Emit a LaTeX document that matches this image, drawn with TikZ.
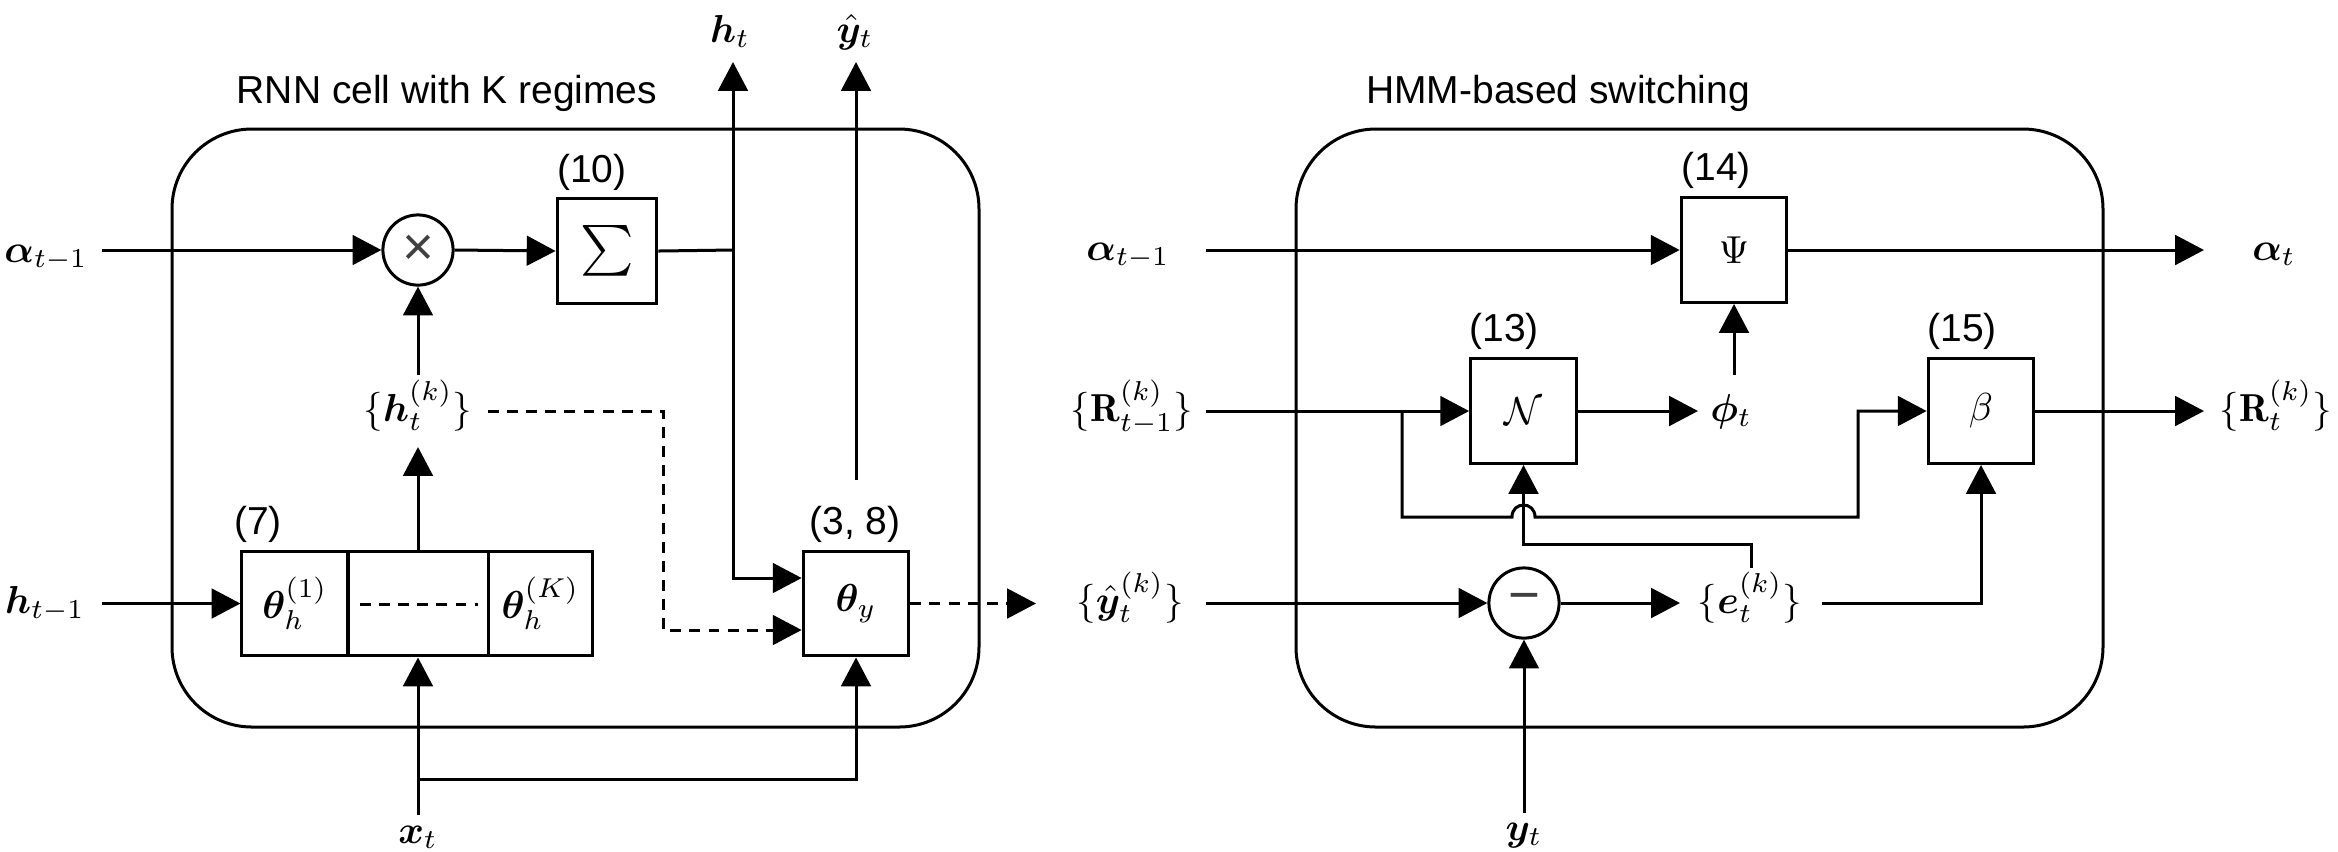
\documentclass[tikz,border=0pt]{standalone}
\usepackage{amsmath,bm}
\usepackage{fontspec}
\newfontfamily\arialf{Liberation Sans}
\usetikzlibrary{arrows.meta}
\begin{document}
\begin{tikzpicture}[x=0.2564pt,y=-0.2564pt, line width=0.77pt,
  arr/.style={-{Triangle[length=7.4pt,width=7.6pt]}},
  box/.style={draw, line width=0.77pt, inner sep=0pt, minimum width=27.1pt, minimum height=26.9pt},
  circ/.style={draw, circle, line width=0.77pt, minimum size=18pt, inner sep=0pt, font=\arialf\fontsize{14}{14}\selectfont, text=black!75},
  lab/.style={inner sep=0pt, anchor=base, font=\fontsize{10}{12}\selectfont},
  sans/.style={inner sep=0pt, anchor=base, font=\arialf\fontsize{10}{12}\selectfont},
  cont/.style={draw, line width=0.77pt, rounded corners=20.5pt},
  dsh/.style={dash pattern=on 2.8pt off 2.1pt},
]
\useasboundingbox (0,0) rectangle (2338,851);

% containers
\draw[cont] (172,129) rectangle (979,727);
\draw[cont] (1296,129) rectangle (2103,727);
\node[sans] (tRNN) at (447,103) {RNN cell with K regimes};
\node[sans] (tHMM) at (1558,103) {HMM-based switching};

% ---------- left part ----------
\node[circ] (mul) at (418,250) {×};
\node[box, minimum width=25.6pt, minimum height=26.7pt] (sum) at (607,251) {\scalebox{1.3}{$\sum$}};
\node[sans] (l10) at (592,182) {(10)};

\node[box, minimum width=27.2pt] (th1) at (295,603.5) {$\boldsymbol{\theta}_h^{(1)}$};
\node[box, minimum width=35.9pt] (thm) at (418,603.5) {};
\node[box, minimum width=26.9pt] (thK) at (540.5,603.5) {$\boldsymbol{\theta}_h^{(K)}$};
\coordinate (dm1) at (360,604);
\coordinate (dm2) at (478,604);
\draw[dsh] (dm1) -- (dm2);
\node[sans] (l7) at (258,534) {(7)};

\node[box] (thy) at (856,603.5) {$\boldsymbol{\theta}_y$};
\node[sans] (l38) at (855,534) {(3, 8)};

% labels
\node[lab] (aL) at (46,262) {$\boldsymbol{\alpha}_{t-1}$};
\node[lab] (hL) at (45,613) {$\boldsymbol{h}_{t-1}$};
\node[lab] (hk) at (418,421) {$\{\boldsymbol{h}_t^{(k)}\}$};
\node[lab] (htl) at (730,42) {$\boldsymbol{h}_t$};
\node[lab] (yhl) at (855,42) {$\hat{\boldsymbol{y}}_t$};
\node[lab] (xtl) at (418,843) {$\boldsymbol{x}_t$};

% coordinates
\coordinate (aLo) at (102,250);
\coordinate (jh) at (733,250);
\coordinate (htT) at (733,62);
\coordinate (hin) at (733,578);
\coordinate (yhS) at (856,480);
\coordinate (yhT) at (856,62);
\coordinate (hLo) at (102,603.5);
\coordinate (hkB) at (418,447);
\coordinate (hkT) at (418,375);
\coordinate (hkR) at (488,411);
\coordinate (dc) at (663,630);
\coordinate (xtT) at (418,815);
\coordinate (xb) at (418,779);
\coordinate (ykTip) at (1036,603.5);

% connectors
\draw[arr] (aLo) -- (mul.west);
\draw[arr] (mul.east) -- (sum.west);
\draw (sum.east) -- (jh);
\draw[arr] (jh) -- (htT);
\draw[arr] (jh) -- (hin) -- (hin -| thy.west);
\draw[arr] (yhS) -- (yhT);
\draw[arr] (hLo) -- (th1.west);
\draw[arr] (thm.north) -- (hkB);
\draw[arr] (hkT) -- (mul.south);
\draw[arr,dsh] (hkR) -| (dc) -- (dc -| thy.west);
\draw[arr] (xtT) -- (thm.south);
\draw[arr] (xb) -| (thy.south);
\draw[arr,dsh] (thy.east) -- (ykTip);

% ---------- right part ----------
\node[box] (psi) at (1734,250) {$\Psi$};
\node[sans] (l14) at (1716,180) {(14)};
\node[box] (nn) at (1523.5,411) {$\mathcal{N}$};
\node[sans] (l13) at (1504,341) {(13)};
\node[box] (bet) at (1981,411) {$\beta$};
\node[sans] (l15) at (1962,341) {(15)};
\node[circ] (minus) at (1524,603) {−};

\node[lab] (aRl) at (1128,260) {$\boldsymbol{\alpha}_{t-1}$};
\node[lab] (aTl) at (2274,260) {$\boldsymbol{\alpha}_t$};
\node[lab] (rLl) at (1132,421) {$\{\mathbf{R}_{t-1}^{(k)}\}$};
\node[lab] (rTl) at (2276,421) {$\{\mathbf{R}_t^{(k)}\}$};
\node[lab] (phl) at (1731,421) {$\boldsymbol{\phi}_t$};
\node[lab] (ykl) at (1130,613) {$\{\hat{\boldsymbol{y}}_t^{(k)}\}$};
\node[lab] (ekl) at (1750,613) {$\{\boldsymbol{e}_t^{(k)}\}$};
\node[lab] (ytl) at (1524,840) {$\boldsymbol{y}_t$};

\coordinate (aRo) at (1206,250);
\coordinate (aTo) at (2204,250);
\coordinate (rLo) at (1206,411);
\coordinate (rTo) at (2204,411);
\coordinate (phL) at (1698,411);
\coordinate (phT) at (1734,375);
\coordinate (rb) at (1402,411);
\coordinate (eTop) at (1751,568);
\coordinate (eTurn) at (1751,544);
\coordinate (ykRo) at (1206,603);
\coordinate (eL) at (1680,603);
\coordinate (eR) at (1822,603);
\coordinate (ytB) at (1524,813);

\draw[arr] (aRo) -- (psi.west);
\draw[arr] (psi.east) -- (aTo);
\draw[arr] (rLo) -- (nn.west);
\draw[arr] (nn.east) -- (phL);
\draw[arr] (phT) -- (psi.south);
\draw[arr] (bet.east) -- (rTo);
\draw[arr] (rb) -- (1402,517) -- (1512,517) .. controls (1512,501) and (1535,501) .. (1535,517) -- (1858,517) -- (1858,411) -- (bet.west);
\draw[arr] (eTop) -- (eTurn) -| (nn.south);
\draw[arr] (ykRo) -- (minus.west);
\draw[arr] (minus.east) -- (eL);
\draw[arr] (eR) -| (bet.south);
\draw[arr] (ytB) -- (minus.south);
\end{tikzpicture}
\end{document}
